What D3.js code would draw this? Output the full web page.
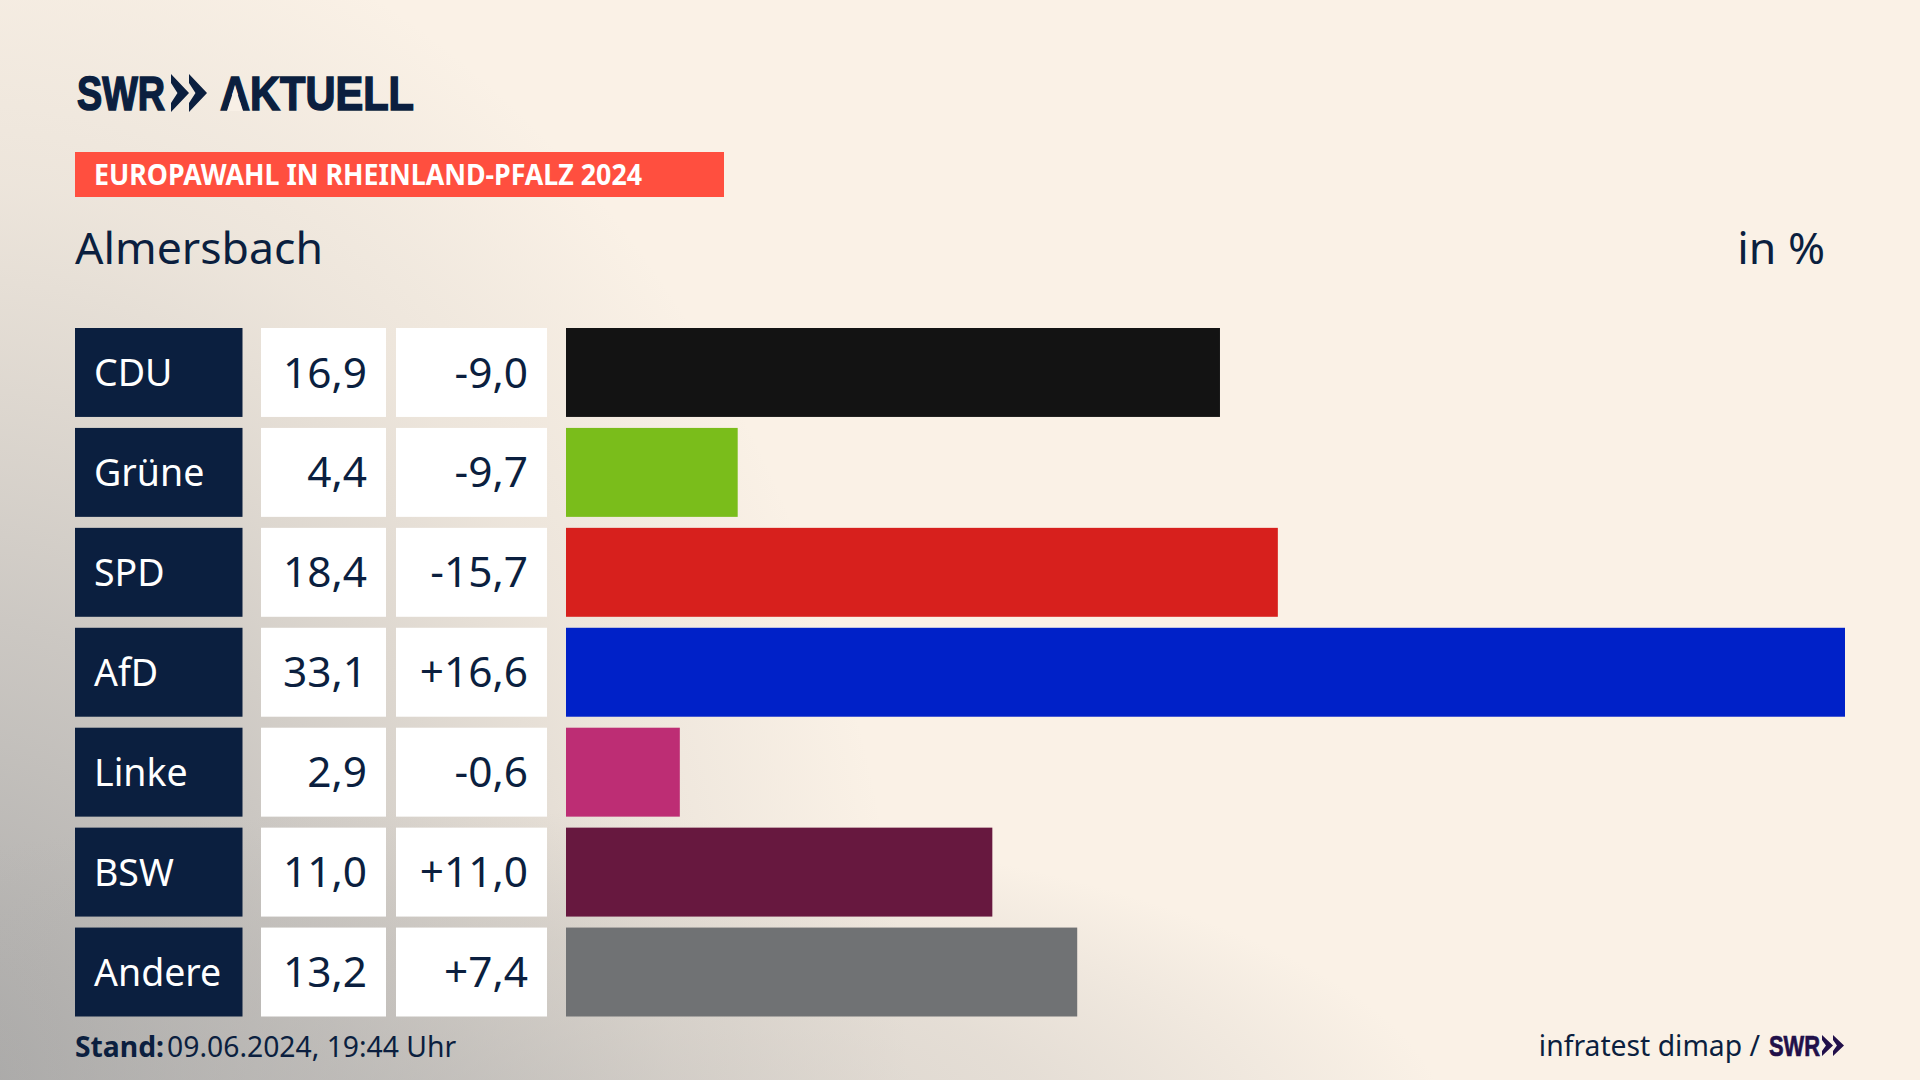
<!DOCTYPE html>
<html>
<head>
<meta charset="utf-8">
<script src="https://cdn.jsdelivr.net/npm/d3@7"></script>
<style>
  html, body { margin: 0; padding: 0; background: #faf1e6; }
  svg { display: block; }
  text { font-family: "Noto Sans", sans-serif; fill: #0b1f3f; }
</style>
</head>
<body>
<svg width="1920" height="1080"></svg>
<script>
const parties = ['CDU', 'Grüne', 'SPD', 'AfD', 'Linke', 'BSW', 'Andere'];
const shares = [16.9, 4.4, 18.4, 33.1, 2.9, 11.0, 13.2];
const changes = [-9.0, -9.7, -15.7, 16.6, -0.6, 11.0, 7.4];
const partyColors = ['#131313', '#7abd1b', '#d7201d', '#0021c8', '#bd2d74', '#67183f', '#707274'];

const navy = '#0b1f3f';
const fmt = v => v.toFixed(1).replace('.', ',');
const fmtChange = v => (v > 0 ? '+' : '') + fmt(v);

const svg = d3.select('svg');
const defs = svg.append('defs');

// background: cream, grey glow in the bottom left corner and along the bottom
function glow(id, cx, cy, rx, ry, stops) {
  const g = defs.append('radialGradient')
    .attr('id', id)
    .attr('gradientUnits', 'userSpaceOnUse')
    .attr('cx', 0).attr('cy', 0).attr('r', 1)
    .attr('gradientTransform', `translate(${cx} ${cy}) scale(${rx} ${ry})`);
  stops.forEach(s => {
    g.append('stop').attr('offset', s[0]).attr('stop-color', s[1]).attr('stop-opacity', s[2]);
  });
  svg.append('rect').attr('width', 1920).attr('height', 1080).attr('fill', `url(#${id})`);
}
svg.append('rect').attr('width', 1920).attr('height', 1080).attr('fill', '#faf1e6');
glow('corner', -40, 1120, 950, 1250, [[0, '#a2a2a2', 0.95], [0.4, '#a6a6a6', 0.55], [0.75, '#b0aeaa', 0.18], [1, '#b0aeaa', 0]]);
glow('bottom', 450, 1130, 1000, 320, [[0, '#a8a8a8', 0.5], [0.6, '#aeacaa', 0.28], [1, '#aeacaa', 0]]);

// chevrons of the logo
function chevrons(x, y, w, h, color) {
  [0, w].forEach(dx => {
    const p = d3.path();
    p.moveTo(x + dx, y);
    p.lineTo(x + dx + w, y + h / 2);
    p.lineTo(x + dx, y + h);
    p.lineTo(x + dx, y + h * 0.76);
    p.lineTo(x + dx + w * 0.36, y + h / 2);
    p.lineTo(x + dx, y + h * 0.24);
    p.closePath();
    svg.append('path').attr('d', p.toString()).attr('fill', color);
  });
}

function logoText(x, y, len, size, color, stroke, label) {
  return svg.append('text').attr('x', x).attr('y', y)
    .attr('textLength', len).attr('lengthAdjust', 'spacingAndGlyphs')
    .style('font-family', '"Liberation Sans Narrow", sans-serif')
    .style('font-weight', 700).style('font-size', size + 'px')
    .style('fill', color).style('stroke', color).style('stroke-width', stroke)
    .text(label);
}

// logo
logoText(77, 110, 88, 48, navy, 1.6, 'SWR');
chevrons(171, 74, 18, 38, navy);
logoText(220, 110, 194, 48, navy, 1.6, 'AKTUELL');
// the logo's A has no crossbar
svg.append('path').attr('d', 'M235 86L243 111L227 111Z').attr('fill', '#f8f0e6');

// banner
svg.append('rect').attr('x', 75).attr('y', 152).attr('width', 649).attr('height', 45).attr('fill', '#ff4f3f');
svg.append('text').attr('x', 94).attr('y', 185)
  .attr('textLength', 548).attr('lengthAdjust', 'spacingAndGlyphs')
  .style('font-weight', 700).style('font-size', '28px').style('fill', '#fff')
  .text('EUROPAWAHL IN RHEINLAND-PFALZ 2024');

// title
svg.append('text').attr('x', 75).attr('y', 264)
  .style('font-size', '44.6px').text('Almersbach');
svg.append('text').attr('x', 1825).attr('y', 264).attr('text-anchor', 'end')
  .style('font-size', '44.6px').text('in %');

// scales
const y = d3.scaleBand().domain(parties).range([328, 1016.5]).paddingInner(0.11);
const x = d3.scaleLinear().domain([-0.05, 33.1]).range([566, 1845]);
const color = d3.scaleOrdinal().domain(parties).range(partyColors);

const rows = svg.selectAll('g.row')
  .data(parties.map((party, i) => ({ party, share: shares[i], change: changes[i] })))
  .enter().append('g')
  .attr('class', 'row')
  .attr('transform', d => `translate(0,${y(d.party)})`);

rows.append('rect').attr('x', 75).attr('width', 167.5).attr('height', y.bandwidth()).attr('fill', navy);
rows.append('rect').attr('x', 261).attr('width', 125).attr('height', y.bandwidth()).attr('fill', '#fff');
rows.append('rect').attr('x', 396).attr('width', 151).attr('height', y.bandwidth()).attr('fill', '#fff');
rows.append('rect')
  .attr('x', x.range()[0])
  .attr('width', d => x(d.share) - x.range()[0])
  .attr('height', y.bandwidth())
  .attr('fill', d => color(d.party));

rows.append('text').attr('x', 94).attr('y', 58)
  .style('font-size', '37.5px').style('fill', '#fff').text(d => d.party);
rows.append('text').attr('x', 367).attr('y', 59.5).attr('text-anchor', 'end')
  .style('font-size', '42.4px').text(d => fmt(d.share));
rows.append('text').attr('x', 528).attr('y', 59.5).attr('text-anchor', 'end')
  .style('font-size', '42.4px').text(d => fmtChange(d.change));

// footer
const stand = svg.append('text').attr('x', 75).attr('y', 1057).style('font-size', '28.3px');
stand.append('tspan').style('font-weight', 700).text('Stand:');
stand.append('tspan').attr('dx', 3).text('09.06.2024, 19:44 Uhr');

svg.append('text').attr('x', 1760).attr('y', 1056).attr('text-anchor', 'end')
  .style('font-size', '28.3px').text('infratest dimap /');
logoText(1769, 1056, 51, 29, '#21104a', 0.7, 'SWR');
chevrons(1822, 1035, 11, 21, '#21104a');
</script>
</body>
</html>
